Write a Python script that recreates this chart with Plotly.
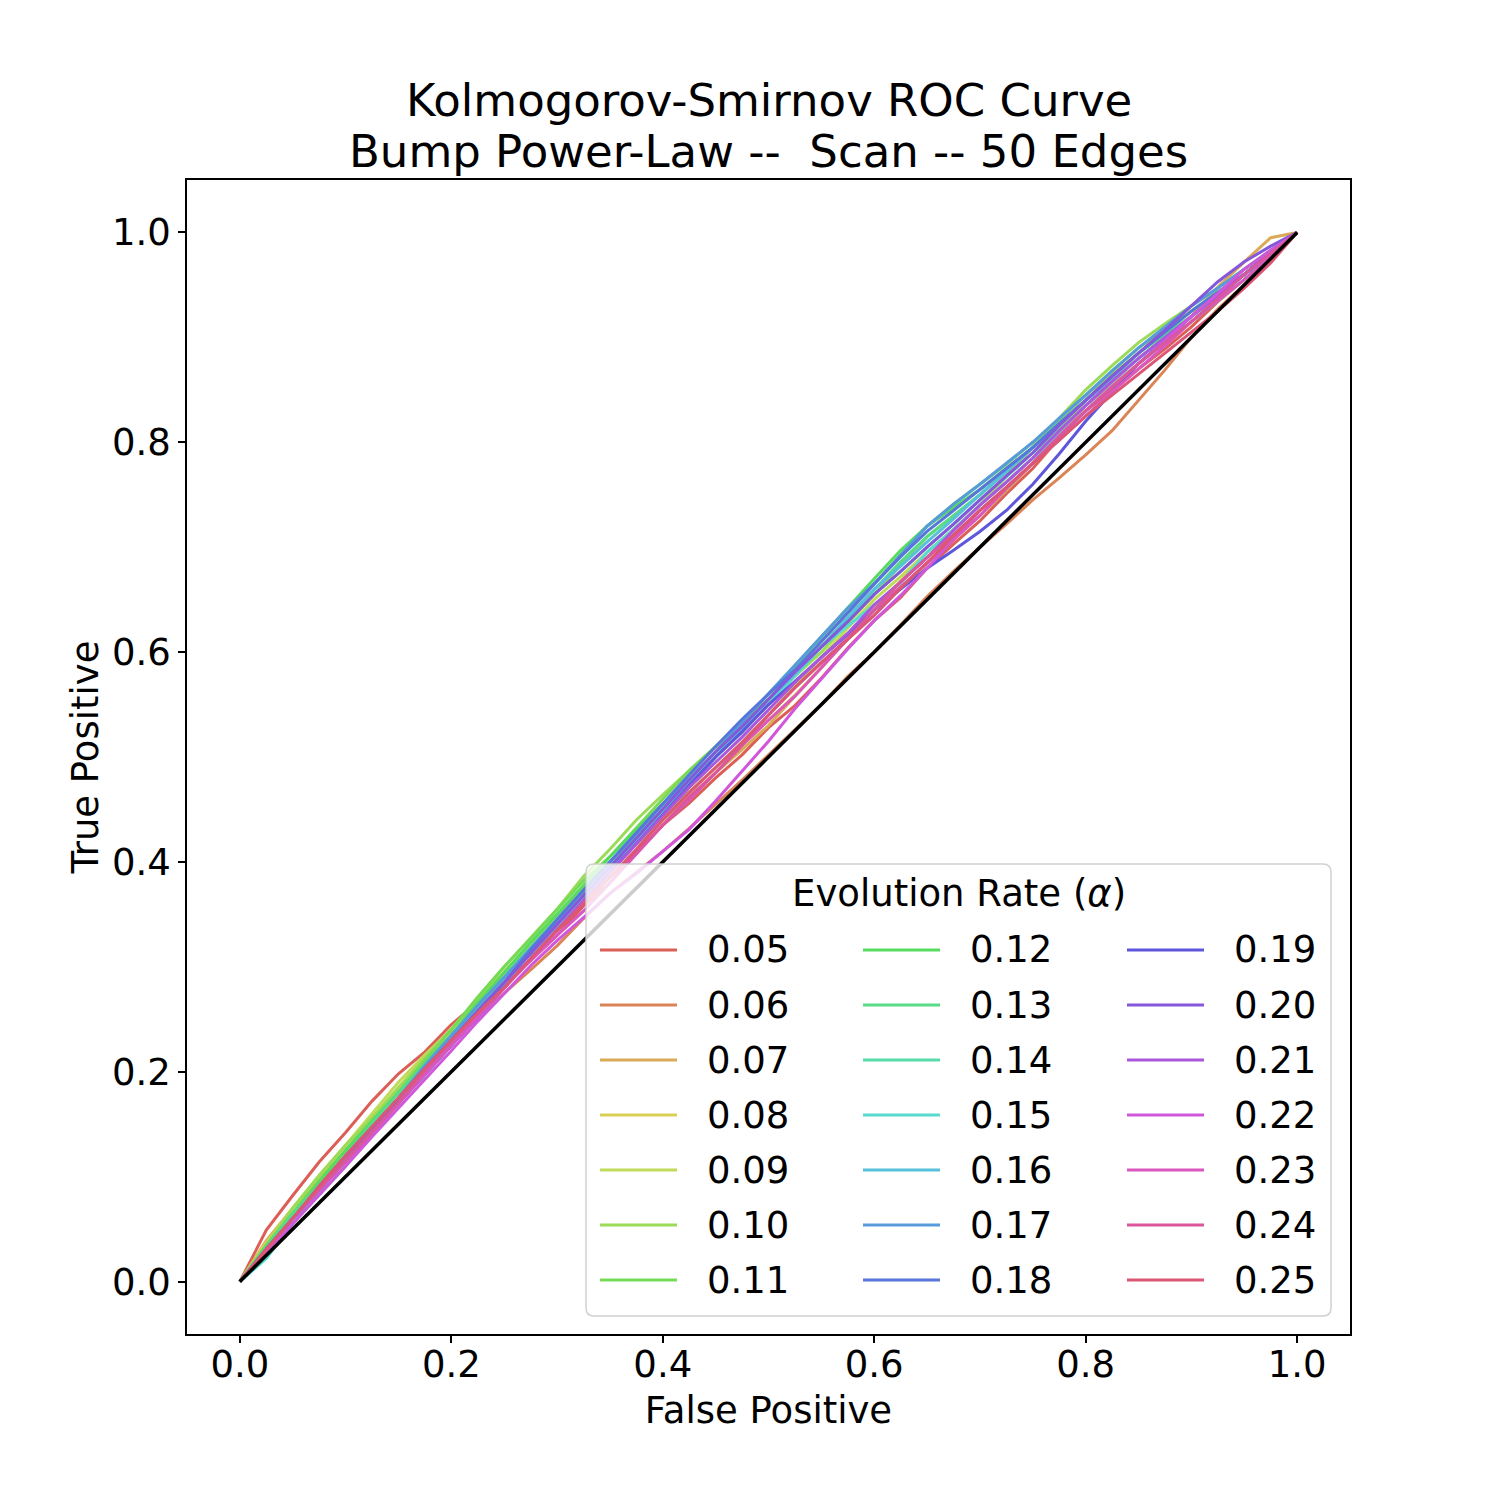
import colorsys
import plotly.graph_objects as go

# ---------------- data ----------------
fpr = [0, .025, .05, .075, .1, .125, .15, .175, .2, .225, .25, .275, .3, .325, .35, .375,
       .4, .425, .45, .475, .5, .525, .55, .575, .6, .625, .65, .675, .7, .725, .75, .775,
       .8, .825, .85, .875, .9, .925, .95, .975, 1.0]

alphas = ["0.05", "0.06", "0.07", "0.08", "0.09", "0.10", "0.11", "0.12", "0.13", "0.14",
          "0.15", "0.16", "0.17", "0.18", "0.19", "0.20", "0.21", "0.22", "0.23", "0.24", "0.25"]

tpr_005 = [0, .049, .082, .114, .142, .172, .198, .219, .245, .266, .285, .306, .330, .358, .380, .409, .435, .456, .480, .502, .528, .549, .575, .604, .630, .652, .680, .703, .725, .751, .775, .804, .830, .849, .870, .889, .910, .934, .955, .978, 1.0]
tpr_006 = [0, .035, .065, .092, .120, .147, .170, .198, .225, .252, .275, .297, .320, .346, .370, .390, .410, .432, .455, .478, .502, .526, .550, .577, .600, .626, .653, .677, .700, .722, .745, .766, .788, .811, .840, .869, .900, .927, .950, .977, 1.0]
tpr_007 = [0, .039, .070, .097, .125, .154, .180, .208, .235, .263, .290, .312, .340, .368, .395, .417, .440, .461, .485, .507, .530, .558, .585, .613, .640, .662, .685, .708, .730, .754, .780, .808, .835, .855, .875, .897, .920, .948, .972, .995, 1.0]
tpr_008 = [0, .037, .070, .101, .130, .156, .185, .213, .240, .269, .295, .323, .350, .372, .395, .417, .440, .466, .490, .512, .535, .559, .585, .613, .640, .668, .695, .717, .740, .762, .785, .813, .840, .862, .885, .905, .925, .942, .960, .981, 1.0]
tpr_009 = [0, .036, .070, .100, .130, .161, .190, .216, .240, .268, .295, .323, .350, .376, .400, .422, .445, .467, .490, .514, .540, .568, .595, .623, .650, .672, .695, .717, .740, .768, .795, .821, .845, .865, .885, .905, .925, .943, .960, .980, 1.0]
tpr_010 = [0, .035, .070, .101, .130, .156, .185, .213, .240, .271, .300, .327, .355, .386, .412, .440, .464, .487, .510, .533, .555, .577, .600, .627, .655, .683, .710, .730, .750, .772, .795, .823, .850, .873, .895, .913, .930, .947, .965, .983, 1.0]
tpr_011 = [0, .033, .065, .096, .125, .152, .180, .211, .240, .271, .300, .327, .355, .382, .405, .433, .460, .487, .510, .532, .555, .583, .610, .638, .665, .693, .720, .741, .760, .779, .800, .822, .845, .868, .890, .908, .925, .942, .960, .981, 1.0]
tpr_012 = [0, .034, .065, .095, .125, .153, .180, .208, .235, .266, .295, .323, .350, .378, .405, .431, .455, .479, .505, .533, .560, .587, .615, .643, .670, .697, .720, .738, .755, .775, .795, .817, .840, .863, .885, .905, .925, .943, .960, .980, 1.0]
tpr_013 = [0, .032, .065, .092, .120, .151, .180, .207, .235, .263, .290, .318, .345, .373, .400, .426, .450, .473, .500, .528, .555, .579, .605, .633, .660, .686, .710, .730, .750, .772, .795, .818, .840, .862, .885, .903, .920, .939, .960, .979, 1.0]
tpr_014 = [0, .030, .060, .091, .120, .147, .175, .203, .230, .261, .290, .318, .345, .371, .395, .422, .450, .476, .500, .524, .550, .578, .605, .631, .655, .677, .700, .722, .745, .767, .790, .812, .835, .858, .880, .900, .920, .939, .960, .980, 1.0]
tpr_015 = [0, .022, .055, .082, .110, .141, .170, .197, .225, .256, .285, .313, .340, .368, .395, .419, .445, .472, .500, .524, .550, .577, .605, .625, .645, .666, .695, .717, .740, .762, .785, .807, .830, .853, .875, .895, .915, .935, .955, .977, 1.0]
tpr_016 = [0, .027, .055, .086, .115, .142, .170, .201, .230, .258, .285, .312, .340, .368, .395, .423, .450, .474, .500, .528, .555, .579, .605, .633, .660, .682, .705, .727, .750, .772, .795, .818, .840, .860, .880, .900, .920, .940, .960, .979, 1.0]
tpr_017 = [0, .030, .060, .091, .120, .147, .175, .206, .235, .263, .290, .318, .345, .373, .400, .428, .455, .479, .505, .533, .560, .588, .615, .642, .665, .693, .720, .741, .760, .780, .800, .823, .845, .868, .890, .910, .930, .947, .965, .983, 1.0]
tpr_018 = [0, .029, .060, .087, .115, .146, .175, .203, .230, .257, .285, .316, .345, .373, .400, .428, .455, .483, .510, .536, .560, .583, .610, .638, .665, .691, .715, .735, .755, .775, .795, .818, .840, .863, .885, .905, .925, .943, .960, .980, 1.0]
tpr_019 = [0, .031, .060, .087, .115, .142, .170, .197, .225, .253, .280, .308, .335, .363, .390, .418, .445, .473, .500, .524, .550, .572, .595, .617, .640, .660, .680, .697, .715, .735, .760, .789, .820, .848, .875, .897, .920, .940, .960, .981, 1.0]
tpr_020 = [0, .030, .060, .091, .120, .147, .175, .203, .230, .258, .285, .313, .340, .368, .395, .423, .450, .478, .505, .529, .555, .581, .605, .629, .655, .677, .700, .722, .745, .768, .790, .816, .840, .863, .885, .907, .930, .953, .972, .987, 1.0]
tpr_021 = [0, .029, .060, .087, .115, .142, .170, .198, .225, .252, .280, .308, .335, .363, .390, .417, .445, .471, .495, .519, .545, .571, .595, .618, .645, .667, .690, .716, .740, .762, .785, .811, .835, .858, .880, .900, .920, .940, .960, .980, 1.0]
tpr_022 = [0, .026, .055, .082, .110, .138, .165, .193, .220, .248, .275, .301, .325, .347, .370, .389, .410, .431, .458, .486, .515, .546, .575, .603, .630, .654, .680, .708, .735, .757, .780, .806, .830, .853, .875, .897, .920, .942, .965, .983, 1.0]
tpr_023 = [0, .029, .060, .087, .115, .141, .170, .198, .225, .253, .280, .306, .330, .353, .380, .408, .435, .459, .485, .511, .535, .558, .585, .613, .640, .662, .685, .707, .730, .756, .780, .802, .825, .848, .870, .892, .915, .935, .955, .977, 1.0]
tpr_024 = [0, .030, .060, .088, .115, .143, .170, .201, .230, .256, .280, .308, .335, .361, .385, .409, .435, .462, .485, .511, .540, .566, .590, .613, .640, .667, .690, .712, .735, .757, .780, .806, .830, .852, .875, .895, .915, .937, .960, .980, 1.0]
tpr_025 = [0, .031, .060, .091, .120, .147, .175, .203, .230, .256, .280, .308, .335, .359, .385, .412, .440, .466, .490, .514, .540, .566, .590, .612, .635, .661, .685, .711, .735, .757, .780, .802, .825, .845, .865, .885, .905, .925, .947, .971, 1.0]

tprs = [tpr_005, tpr_006, tpr_007, tpr_008, tpr_009, tpr_010, tpr_011, tpr_012, tpr_013,
        tpr_014, tpr_015, tpr_016, tpr_017, tpr_018, tpr_019, tpr_020, tpr_021, tpr_022,
        tpr_023, tpr_024, tpr_025]

chance_x = [0, 1]
chance_y = [0, 1]

title_lines = ["Kolmogorov-Smirnov ROC Curve", "Bump Power-Law --  Scan -- 50 Edges"]
legend_title = "Evolution Rate (<i>\u03b1</i>)"
tick_vals = [0.0, 0.2, 0.4, 0.6, 0.8, 1.0]
tick_text = ["0.0", "0.2", "0.4", "0.6", "0.8", "1.0"]

# ---------------- style ----------------
n = len(alphas)
colors = []
for i in range(n):
    h = (i / n + 0.01) % 1.0
    r, g, b = colorsys.hls_to_rgb(h, 0.6, 0.65)
    colors.append("rgb(%d,%d,%d)" % (round(r * 255), round(g * 255), round(b * 255)))

FONT = "DejaVu Sans"
W, H = 1500, 1500
L, R, T, B = 187, 150, 180, 166
PW, PH = W - L - R, H - T - B


def px(xp):
    return (xp - L) / PW


def py(yp):
    return (H - B - yp) / PH


fig = go.Figure()
for a, y, c in zip(alphas, tprs, colors):
    fig.add_trace(go.Scatter(x=fpr, y=y, mode="lines", name=a,
                             line=dict(color=c, width=3), showlegend=False))
fig.add_trace(go.Scatter(x=chance_x, y=chance_y, mode="lines", name="chance",
                         line=dict(color="black", width=3.5), showlegend=False))

axis_common = dict(range=[-0.05, 1.05], tickvals=tick_vals, ticktext=tick_text,
                   showgrid=False, zeroline=False, showline=True, mirror=True,
                   linecolor="black", linewidth=1.7, ticks="outside", ticklen=7,
                   tickwidth=1.7, tickcolor="black", automargin=False,
                   tickfont=dict(family=FONT, size=37, color="black"))

fig.update_layout(
    width=W, height=H, template="none",
    margin=dict(l=L, r=R, t=T, b=B, autoexpand=False),
    paper_bgcolor="white", plot_bgcolor="white",
    xaxis=dict(**axis_common, ticklabelstandoff=-10,
               title=dict(text="False Positive", standoff=12,
                          font=dict(family=FONT, size=37, color="black"))),
    yaxis=dict(**axis_common,
               title=dict(text="True Positive", standoff=2,
                          font=dict(family=FONT, size=37, color="black"))),
)

# title (two lines)
for txt, yc in zip(title_lines, [101, 151]):
    fig.add_annotation(text=txt, xref="paper", yref="paper", x=0.5, y=py(yc),
                       xanchor="center", yanchor="middle", showarrow=False,
                       font=dict(family=FONT, size=45, color="black"))

# legend box (rounded, semi-transparent)
x0, x1, y0, y1 = 586, 1331, 864, 1316
rr = 8
path = (f"M {px(x0 + rr)} {py(y0)} L {px(x1 - rr)} {py(y0)} Q {px(x1)} {py(y0)} {px(x1)} {py(y0 + rr)} "
        f"L {px(x1)} {py(y1 - rr)} Q {px(x1)} {py(y1)} {px(x1 - rr)} {py(y1)} "
        f"L {px(x0 + rr)} {py(y1)} Q {px(x0)} {py(y1)} {px(x0)} {py(y1 - rr)} "
        f"L {px(x0)} {py(y0 + rr)} Q {px(x0)} {py(y0)} {px(x0 + rr)} {py(y0)} Z")
fig.add_shape(type="path", path=path, xref="paper", yref="paper", layer="above",
              fillcolor="rgba(255,255,255,0.8)", line=dict(color="rgba(204,204,204,0.9)", width=1.5))
fig.add_annotation(text=legend_title, xref="paper", yref="paper", x=px((x0 + x1) / 2), y=py(893),
                   xanchor="center", yanchor="middle", showarrow=False,
                   font=dict(family=FONT, size=37, color="black"))

col_line_x = [(600, 677), (863, 940), (1127, 1204)]
col_text_x = [705, 968, 1232]
row_y0, row_dy = 950, 55
for i, (a, c) in enumerate(zip(alphas, colors)):
    col, row = i // 7, i % 7
    yc = row_y0 + row * row_dy
    lx0, lx1 = col_line_x[col]
    fig.add_shape(type="line", xref="paper", yref="paper", layer="above",
                  x0=px(lx0), x1=px(lx1), y0=py(yc), y1=py(yc),
                  line=dict(color=c, width=3))
    fig.add_annotation(text=a, xref="paper", yref="paper", x=px(col_text_x[col]), y=py(yc),
                       xanchor="left", yanchor="middle", showarrow=False,
                       font=dict(family=FONT, size=37, color="black"))

fig.write_html("out.html")
